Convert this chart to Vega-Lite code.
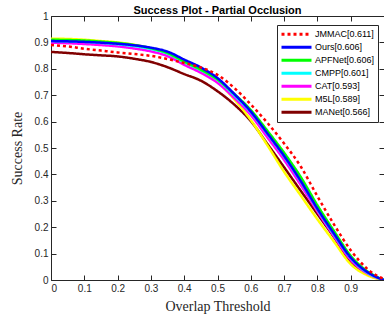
{
  "$schema": "https://vega.github.io/schema/vega-lite/v6.json",
  "width": 333,
  "height": 264,
  "autosize": {"type": "none"},
  "padding": {"left": 51, "top": 16, "right": 0, "bottom": 45},
  "background": "white",
  "title": {"text": "Success Plot - Partial Occlusion", "font": "Liberation Sans", "fontSize": 11, "fontWeight": "bold", "color": "black", "offset": -5, "anchor": "middle"},
  "data": {"values": [
    {"m": "MANet[0.566]", "x": 0, "y": 0.864}, {"m": "MANet[0.566]", "x": 0.05, "y": 0.86}, {"m": "MANet[0.566]", "x": 0.1, "y": 0.855}, {"m": "MANet[0.566]", "x": 0.15, "y": 0.851}, {"m": "MANet[0.566]", "x": 0.2, "y": 0.847}, {"m": "MANet[0.566]", "x": 0.25, "y": 0.838}, {"m": "MANet[0.566]", "x": 0.3, "y": 0.826}, {"m": "MANet[0.566]", "x": 0.35, "y": 0.806}, {"m": "MANet[0.566]", "x": 0.4, "y": 0.78}, {"m": "MANet[0.566]", "x": 0.45, "y": 0.755}, {"m": "MANet[0.566]", "x": 0.5, "y": 0.715}, {"m": "MANet[0.566]", "x": 0.55, "y": 0.665}, {"m": "MANet[0.566]", "x": 0.6, "y": 0.602}, {"m": "MANet[0.566]", "x": 0.65, "y": 0.515}, {"m": "MANet[0.566]", "x": 0.7, "y": 0.427}, {"m": "MANet[0.566]", "x": 0.75, "y": 0.338}, {"m": "MANet[0.566]", "x": 0.8, "y": 0.25}, {"m": "MANet[0.566]", "x": 0.85, "y": 0.162}, {"m": "MANet[0.566]", "x": 0.9, "y": 0.068}, {"m": "MANet[0.566]", "x": 0.95, "y": 0.022}, {"m": "MANet[0.566]", "x": 1, "y": 0},
    {"m": "M5L[0.589]", "x": 0, "y": 0.914}, {"m": "M5L[0.589]", "x": 0.05, "y": 0.913}, {"m": "M5L[0.589]", "x": 0.1, "y": 0.91}, {"m": "M5L[0.589]", "x": 0.15, "y": 0.905}, {"m": "M5L[0.589]", "x": 0.2, "y": 0.9}, {"m": "M5L[0.589]", "x": 0.25, "y": 0.891}, {"m": "M5L[0.589]", "x": 0.3, "y": 0.877}, {"m": "M5L[0.589]", "x": 0.35, "y": 0.858}, {"m": "M5L[0.589]", "x": 0.4, "y": 0.822}, {"m": "M5L[0.589]", "x": 0.45, "y": 0.79}, {"m": "M5L[0.589]", "x": 0.5, "y": 0.75}, {"m": "M5L[0.589]", "x": 0.55, "y": 0.685}, {"m": "M5L[0.589]", "x": 0.6, "y": 0.606}, {"m": "M5L[0.589]", "x": 0.65, "y": 0.51}, {"m": "M5L[0.589]", "x": 0.7, "y": 0.41}, {"m": "M5L[0.589]", "x": 0.75, "y": 0.32}, {"m": "M5L[0.589]", "x": 0.8, "y": 0.23}, {"m": "M5L[0.589]", "x": 0.85, "y": 0.145}, {"m": "M5L[0.589]", "x": 0.9, "y": 0.06}, {"m": "M5L[0.589]", "x": 0.95, "y": 0.018}, {"m": "M5L[0.589]", "x": 1, "y": 0},
    {"m": "CAT[0.593]", "x": 0, "y": 0.899}, {"m": "CAT[0.593]", "x": 0.05, "y": 0.897}, {"m": "CAT[0.593]", "x": 0.1, "y": 0.894}, {"m": "CAT[0.593]", "x": 0.15, "y": 0.89}, {"m": "CAT[0.593]", "x": 0.2, "y": 0.885}, {"m": "CAT[0.593]", "x": 0.25, "y": 0.877}, {"m": "CAT[0.593]", "x": 0.3, "y": 0.866}, {"m": "CAT[0.593]", "x": 0.35, "y": 0.848}, {"m": "CAT[0.593]", "x": 0.4, "y": 0.815}, {"m": "CAT[0.593]", "x": 0.45, "y": 0.785}, {"m": "CAT[0.593]", "x": 0.5, "y": 0.747}, {"m": "CAT[0.593]", "x": 0.55, "y": 0.69}, {"m": "CAT[0.593]", "x": 0.6, "y": 0.625}, {"m": "CAT[0.593]", "x": 0.65, "y": 0.54}, {"m": "CAT[0.593]", "x": 0.7, "y": 0.455}, {"m": "CAT[0.593]", "x": 0.75, "y": 0.36}, {"m": "CAT[0.593]", "x": 0.8, "y": 0.26}, {"m": "CAT[0.593]", "x": 0.85, "y": 0.165}, {"m": "CAT[0.593]", "x": 0.9, "y": 0.076}, {"m": "CAT[0.593]", "x": 0.95, "y": 0.025}, {"m": "CAT[0.593]", "x": 1, "y": 0},
    {"m": "CMPP[0.601]", "x": 0, "y": 0.905}, {"m": "CMPP[0.601]", "x": 0.05, "y": 0.904}, {"m": "CMPP[0.601]", "x": 0.1, "y": 0.902}, {"m": "CMPP[0.601]", "x": 0.15, "y": 0.898}, {"m": "CMPP[0.601]", "x": 0.2, "y": 0.893}, {"m": "CMPP[0.601]", "x": 0.25, "y": 0.886}, {"m": "CMPP[0.601]", "x": 0.3, "y": 0.875}, {"m": "CMPP[0.601]", "x": 0.35, "y": 0.858}, {"m": "CMPP[0.601]", "x": 0.4, "y": 0.825}, {"m": "CMPP[0.601]", "x": 0.45, "y": 0.795}, {"m": "CMPP[0.601]", "x": 0.5, "y": 0.758}, {"m": "CMPP[0.601]", "x": 0.55, "y": 0.7}, {"m": "CMPP[0.601]", "x": 0.6, "y": 0.635}, {"m": "CMPP[0.601]", "x": 0.65, "y": 0.553}, {"m": "CMPP[0.601]", "x": 0.7, "y": 0.468}, {"m": "CMPP[0.601]", "x": 0.75, "y": 0.373}, {"m": "CMPP[0.601]", "x": 0.8, "y": 0.268}, {"m": "CMPP[0.601]", "x": 0.85, "y": 0.172}, {"m": "CMPP[0.601]", "x": 0.9, "y": 0.083}, {"m": "CMPP[0.601]", "x": 0.95, "y": 0.028}, {"m": "CMPP[0.601]", "x": 1, "y": 0},
    {"m": "APFNet[0.606]", "x": 0, "y": 0.91}, {"m": "APFNet[0.606]", "x": 0.05, "y": 0.909}, {"m": "APFNet[0.606]", "x": 0.1, "y": 0.907}, {"m": "APFNet[0.606]", "x": 0.15, "y": 0.903}, {"m": "APFNet[0.606]", "x": 0.2, "y": 0.898}, {"m": "APFNet[0.606]", "x": 0.25, "y": 0.89}, {"m": "APFNet[0.606]", "x": 0.3, "y": 0.878}, {"m": "APFNet[0.606]", "x": 0.35, "y": 0.86}, {"m": "APFNet[0.606]", "x": 0.4, "y": 0.828}, {"m": "APFNet[0.606]", "x": 0.45, "y": 0.797}, {"m": "APFNet[0.606]", "x": 0.5, "y": 0.76}, {"m": "APFNet[0.606]", "x": 0.55, "y": 0.705}, {"m": "APFNet[0.606]", "x": 0.6, "y": 0.644}, {"m": "APFNet[0.606]", "x": 0.65, "y": 0.565}, {"m": "APFNet[0.606]", "x": 0.7, "y": 0.482}, {"m": "APFNet[0.606]", "x": 0.75, "y": 0.39}, {"m": "APFNet[0.606]", "x": 0.8, "y": 0.283}, {"m": "APFNet[0.606]", "x": 0.85, "y": 0.185}, {"m": "APFNet[0.606]", "x": 0.9, "y": 0.092}, {"m": "APFNet[0.606]", "x": 0.95, "y": 0.033}, {"m": "APFNet[0.606]", "x": 1, "y": 0},
    {"m": "Ours[0.606]", "x": 0, "y": 0.905}, {"m": "Ours[0.606]", "x": 0.05, "y": 0.904}, {"m": "Ours[0.606]", "x": 0.1, "y": 0.902}, {"m": "Ours[0.606]", "x": 0.15, "y": 0.899}, {"m": "Ours[0.606]", "x": 0.2, "y": 0.895}, {"m": "Ours[0.606]", "x": 0.25, "y": 0.889}, {"m": "Ours[0.606]", "x": 0.3, "y": 0.88}, {"m": "Ours[0.606]", "x": 0.35, "y": 0.865}, {"m": "Ours[0.606]", "x": 0.4, "y": 0.835}, {"m": "Ours[0.606]", "x": 0.45, "y": 0.805}, {"m": "Ours[0.606]", "x": 0.5, "y": 0.765}, {"m": "Ours[0.606]", "x": 0.55, "y": 0.705}, {"m": "Ours[0.606]", "x": 0.6, "y": 0.638}, {"m": "Ours[0.606]", "x": 0.65, "y": 0.555}, {"m": "Ours[0.606]", "x": 0.7, "y": 0.47}, {"m": "Ours[0.606]", "x": 0.75, "y": 0.375}, {"m": "Ours[0.606]", "x": 0.8, "y": 0.27}, {"m": "Ours[0.606]", "x": 0.85, "y": 0.175}, {"m": "Ours[0.606]", "x": 0.9, "y": 0.085}, {"m": "Ours[0.606]", "x": 0.95, "y": 0.03}, {"m": "Ours[0.606]", "x": 1, "y": 0},
    {"m": "JMMAC[0.611]", "x": 0, "y": 0.89}, {"m": "JMMAC[0.611]", "x": 0.05, "y": 0.885}, {"m": "JMMAC[0.611]", "x": 0.1, "y": 0.876}, {"m": "JMMAC[0.611]", "x": 0.15, "y": 0.869}, {"m": "JMMAC[0.611]", "x": 0.2, "y": 0.862}, {"m": "JMMAC[0.611]", "x": 0.25, "y": 0.856}, {"m": "JMMAC[0.611]", "x": 0.3, "y": 0.849}, {"m": "JMMAC[0.611]", "x": 0.35, "y": 0.837}, {"m": "JMMAC[0.611]", "x": 0.4, "y": 0.822}, {"m": "JMMAC[0.611]", "x": 0.45, "y": 0.805}, {"m": "JMMAC[0.611]", "x": 0.5, "y": 0.777}, {"m": "JMMAC[0.611]", "x": 0.55, "y": 0.728}, {"m": "JMMAC[0.611]", "x": 0.6, "y": 0.665}, {"m": "JMMAC[0.611]", "x": 0.65, "y": 0.595}, {"m": "JMMAC[0.611]", "x": 0.7, "y": 0.517}, {"m": "JMMAC[0.611]", "x": 0.75, "y": 0.43}, {"m": "JMMAC[0.611]", "x": 0.8, "y": 0.317}, {"m": "JMMAC[0.611]", "x": 0.85, "y": 0.21}, {"m": "JMMAC[0.611]", "x": 0.9, "y": 0.113}, {"m": "JMMAC[0.611]", "x": 0.95, "y": 0.042}, {"m": "JMMAC[0.611]", "x": 1, "y": 0.003}
  ]},
  "layer": [
    {
      "mark": {"type": "line", "strokeWidth": 2.5, "interpolate": "monotone", "clip": true},
      "encoding": {
        "x": {"field": "x", "type": "quantitative", "scale": {"domain": [0, 1], "nice": false}, "axis": {"orient": "bottom", "title": "Overlap Threshold", "values": [0, 0.1, 0.2, 0.3, 0.4, 0.5, 0.6, 0.7, 0.8, 0.9, 1], "format": "~g", "labelExpr": "datum.value >= 0.99 ? '' : datum.label", "labelPadding": 8, "titlePadding": 6}},
        "y": {"field": "y", "type": "quantitative", "scale": {"domain": [0, 1], "nice": false}, "axis": {"orient": "left", "title": "Success Rate", "values": [0, 0.1, 0.2, 0.3, 0.4, 0.5, 0.6, 0.7, 0.8, 0.9, 1], "format": "~g", "labelPadding": 8, "titlePadding": 10}},
        "color": {"field": "m", "type": "nominal", "scale": {"domain": ["JMMAC[0.611]", "Ours[0.606]", "APFNet[0.606]", "CMPP[0.601]", "CAT[0.593]", "M5L[0.589]", "MANet[0.566]"], "range": ["#ff0000", "#0000ff", "#00ff00", "#00ffff", "#ff00ff", "#ffff00", "#800000"]}, "legend": {"title": null}},
        "strokeDash": {"field": "m", "type": "nominal", "scale": {"domain": ["JMMAC[0.611]", "Ours[0.606]", "APFNet[0.606]", "CMPP[0.601]", "CAT[0.593]", "M5L[0.589]", "MANet[0.566]"], "range": [[3, 3], [1, 0], [1, 0], [1, 0], [1, 0], [1, 0], [1, 0]]}, "legend": {"title": null}}
      }
    },
    {
      "mark": {"type": "point", "opacity": 0},
      "encoding": {
        "x": {"field": "x", "type": "quantitative", "axis": {"orient": "top", "title": null, "labels": false, "values": [0, 0.1, 0.2, 0.3, 0.4, 0.5, 0.6, 0.7, 0.8, 0.9, 1]}},
        "y": {"field": "y", "type": "quantitative", "axis": {"orient": "right", "title": null, "labels": false, "values": [0, 0.1, 0.2, 0.3, 0.4, 0.5, 0.6, 0.7, 0.8, 0.9, 1]}}
      }
    }
  ],
  "resolve": {"axis": {"x": "independent", "y": "independent"}},
  "config": {
    "view": {"stroke": null},
    "axis": {"domainColor": "#262626", "tickColor": "#262626", "labelColor": "#262626", "labelFont": "Liberation Sans", "labelFontSize": 10, "titleFont": "Liberation Serif", "titleFontSize": 14, "titleFontWeight": "normal", "titleColor": "#262626", "grid": false, "tickSize": -5},
    "legend": {"orient": "none", "legendX": 226, "legendY": 9, "strokeColor": "#262626", "fillColor": "white", "padding": 3, "labelFont": "Liberation Sans", "labelFontSize": 9, "labelColor": "black", "symbolType": "stroke", "symbolSize": 900, "symbolStrokeWidth": 3, "clipHeight": 12.5, "labelOffset": 2, "rowPadding": 0}
  }
}
